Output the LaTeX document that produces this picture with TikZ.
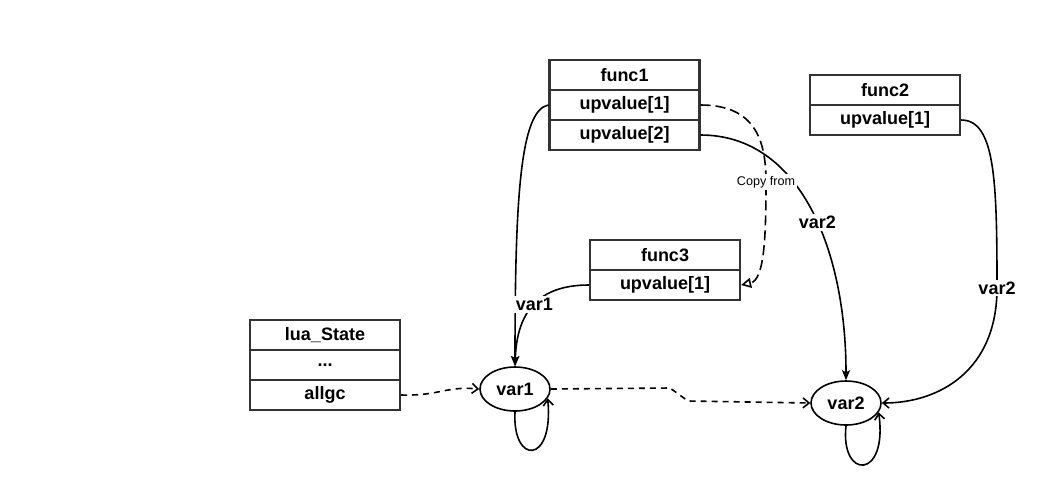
\documentclass[tikz,border=0pt]{standalone}
\usepackage{fontspec}
\setmainfont{Liberation Sans}
\usetikzlibrary{shapes.geometric,arrows.meta}
\begin{document}
\begin{tikzpicture}[x=0.5pt,y=-0.5pt,
feld/.style={rectangle,draw=black!80,line width=1.1pt,minimum width=75pt,minimum height=15pt,inner sep=0pt,font=\fontsize{9}{11}\selectfont\bfseries},
valtozo/.style={ellipse,draw=black,line width=0.8pt,minimum width=35pt,minimum height=22pt,inner sep=0pt,font=\fontsize{9}{11}\selectfont\bfseries},
cimke/.style={fill=white,inner sep=1pt,font=\fontsize{9}{11}\selectfont\bfseries},
nyil/.style={-{Stealth[length=5pt,width=4pt,inset=1pt]}},
nyitott/.style={-{Straight Barb[length=3pt,width=5pt]}}]
\useasboundingbox (0,0) rectangle (1037,489);

\node[feld](f1) at (624.5,75){func1};
\node[feld](f1-up1) at (624.5,105){upvalue[1]};
\node[feld](f1-up2) at (624.5,135){upvalue[2]};

\node[feld](f2) at (885,90){func2};
\node[feld](f2-up1) at (885,120){upvalue[1]};

\node[feld](f3) at (665,255){func3};
\node[feld](f3-up1) at (665,285){upvalue[1]};

\node[feld](ls) at (325,335){lua\_State};
\node[feld](ls-dots) at (325,365){...};
\node[feld](ls-allgc) at (325,395){allgc};

\node[valtozo](v1) at (515,389){var1};
\node[valtozo](v2) at (846,403){var2};

\begin{scope}[line width=0.8pt]
\draw[nyil] (f1-up1.west) .. controls (520,110) and (515,200) .. (v1.north);
\draw[nyil] (f3-up1.west) .. controls (540,285) and (517,310) .. (v1.north)
  node[pos=.5, cimke]{var1};
\draw[nyil] (f1-up2.east) .. controls (800,135) and (846,250) .. (v2.north)
  node[pos=.55, cimke]{var2};
\draw[nyitott] (f2-up1.east) .. controls (995,120) and (997,180) .. (997,288)
  node[cimke]{var2} .. controls (997,370) and (940,403) .. (v2.east);
\draw[dash pattern=on 5pt off 2.5pt, -{Triangle[open,length=5pt,width=5pt]}]
  (f1-up1.east) .. controls (755,105) and (766,140) .. (766,182)
  node[fill=white,inner sep=1pt,font=\fontsize{6.3}{7}\selectfont]{Copy from}
  .. controls (766,240) and (764,280) .. (f3-up1.east);
\end{scope}

\begin{scope}[line width=0.8pt, nyitott, dash pattern=on 3pt off 2.5pt]
\draw (ls-allgc.east) .. controls (440,396) and (445,386) .. (v1.west);
\draw (v1.east) -- (670,388) -- (688,401) -- (v2.west);
\end{scope}

\begin{scope}[line width=0.8pt, nyitott]
\draw (v1.south) .. controls (512,465) and (554,465) .. (v1.-16);
\draw (v2.south) .. controls (840,480) and (888,480) .. (v2.-16);
\end{scope}
\end{tikzpicture}
\end{document}
